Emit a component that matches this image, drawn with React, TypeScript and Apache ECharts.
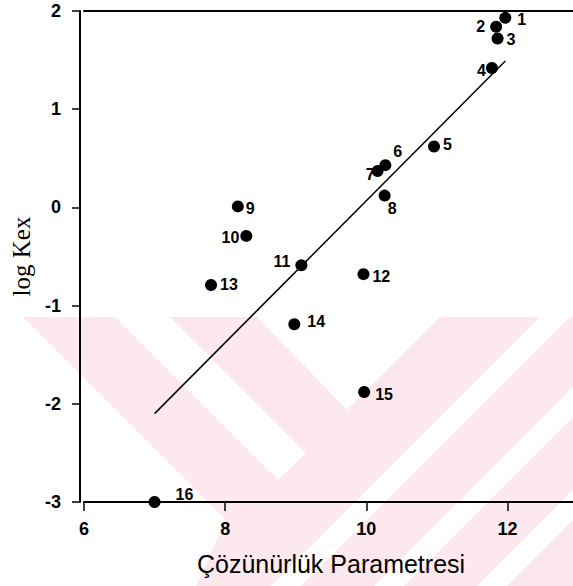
import React, { useEffect, useRef } from "react";
import * as echarts from "echarts";

// Sample numbers shown beside each point
const sampleIds = ["1", "2", "3", "4", "5", "6", "7", "8", "9", "10", "11", "12", "13", "14", "15", "16"];
// Solubility parameter (x) and log Kex (y) for each sample
const solubilityParam = [11.97, 11.84, 11.86, 11.78, 10.96, 10.27, 10.16, 10.26, 8.18, 8.3, 9.08, 9.96, 7.8, 8.98, 9.97, 7.0];
const logKex = [1.93, 1.84, 1.72, 1.42, 0.62, 0.43, 0.37, 0.12, 0.01, -0.29, -0.59, -0.68, -0.79, -1.19, -1.88, -3.0];

// Regression line end points
const fitX = [7.0, 11.97];
const fitY = [-2.1, 1.49];

// Axis ranges
const xRange = [6, 13];
const yRange = [-3, 2];
const xTickStep = 2;
const yTickStep = 1;

// Where each sample number sits next to its dot
const labelPlacement: { pos: "left" | "right"; dist: number; off: [number, number] }[] = [
  { pos: "right", dist: 6, off: [0, 2] },
  { pos: "left", dist: 5, off: [0, 0] },
  { pos: "right", dist: 3, off: [0, 1] },
  { pos: "left", dist: 0, off: [0, 3] },
  { pos: "right", dist: 3, off: [0, -2] },
  { pos: "right", dist: 2, off: [0, -14] },
  { pos: "left", dist: 0, off: [3, 3] },
  { pos: "right", dist: 0, off: [-3, 13] },
  { pos: "right", dist: 2, off: [0, 2] },
  { pos: "left", dist: 1, off: [0, 2] },
  { pos: "left", dist: 5, off: [0, -4] },
  { pos: "right", dist: 3, off: [0, 2] },
  { pos: "right", dist: 3, off: [0, 0] },
  { pos: "right", dist: 7, off: [0, -3] },
  { pos: "right", dist: 5, off: [0, 2] },
  { pos: "right", dist: 15, off: [0, -8] },
];

const SANS = "'Liberation Sans', Arial, sans-serif";
const SERIF = "'Liberation Serif', 'Times New Roman', serif";
const PINK = "#fde9ed";

// Faint background emblem: pink field with white diagonal cut-outs
const emblem = [
  { pts: [[23, 317], [580, 317], [580, 586], [196, 586], [226, 520]], fill: PINK, z: -6 },
  { pts: [[115, 317], [170, 317], [306, 453], [278, 480]], fill: "#ffffff", z: -5 },
  { pts: [[257, 317], [347, 410], [440, 317]], fill: "#ffffff", z: -5 },
  { pts: [[540, 317], [570, 317], [301, 586], [271, 586]], fill: "#ffffff", z: -5 },
  { pts: [[580, 380], [580, 410], [404, 586], [374, 586]], fill: "#ffffff", z: -5 },
  { pts: [[580, 483], [580, 513], [507, 586], [477, 586]], fill: "#ffffff", z: -5 },
];

export default function App() {
  const ref = useRef<HTMLDivElement>(null);

  useEffect(() => {
    if (!ref.current) return;
    const chart = echarts.init(ref.current, null, { renderer: "svg" });

    const points = sampleIds.map((id, i) => ({
      name: id,
      value: [solubilityParam[i], logKex[i]],
      label: {
        position: labelPlacement[i].pos,
        distance: labelPlacement[i].dist,
        offset: labelPlacement[i].off,
      },
    }));

    const axisLine = { show: true, onZero: false, lineStyle: { color: "#000", width: 2 } };
    const tickFont = { color: "#000", fontFamily: SANS, fontSize: 18, fontWeight: "bold" as const };

    chart.setOption({
      animation: false,
      backgroundColor: "#ffffff",
      grid: { left: 84, right: 2, top: 11, bottom: 84, containLabel: false },
      graphic: {
        elements: emblem.map((e) => ({
          type: "polygon",
          z: e.z,
          silent: true,
          shape: { points: e.pts },
          style: { fill: e.fill },
        })),
      },
      xAxis: [
        {
          type: "value",
          position: "bottom",
          min: xRange[0],
          max: xRange[1],
          interval: xTickStep,
          axisLine,
          axisTick: { show: true, inside: false, length: 9, lineStyle: { color: "#000", width: 1.5 } },
          axisLabel: {
            ...tickFont,
            margin: 18,
            showMaxLabel: false,
            formatter: (v: number) => ((v - xRange[0]) % xTickStep === 0 ? String(v) : ""),
          },
          splitLine: { show: false },
          name: "Çözünürlük Parametresi",
          nameLocation: "middle",
          nameGap: 49,
          nameTextStyle: { color: "#000", fontFamily: SANS, fontSize: 25 },
        },
        {
          type: "value",
          position: "top",
          min: xRange[0],
          max: xRange[1],
          interval: xTickStep,
          axisLine,
          axisTick: { show: false },
          axisLabel: { show: false },
          splitLine: { show: false },
        },
      ],
      yAxis: {
        type: "value",
        min: yRange[0],
        max: yRange[1],
        interval: yTickStep,
        offset: 4,
        axisLine,
        axisTick: { show: true, inside: false, length: 8, lineStyle: { color: "#000", width: 1.5 } },
        axisLabel: { ...tickFont, margin: 19 },
        splitLine: { show: false },
        name: "log Kex",
        nameLocation: "middle",
        nameRotate: 90,
        nameGap: 46,
        nameTextStyle: { color: "#000", fontFamily: SERIF, fontSize: 25 },
      },
      series: [
        {
          type: "line",
          data: fitX.map((x, i) => [x, fitY[i]]),
          symbol: "none",
          lineStyle: { color: "#000", width: 1.5 },
          z: 2,
        },
        {
          type: "scatter",
          data: points,
          symbol: "circle",
          symbolSize: 12,
          clip: false,
          itemStyle: { color: "#000", opacity: 1 },
          label: {
            show: true,
            formatter: "{b}",
            color: "#000",
            fontFamily: SANS,
            fontSize: 16,
            fontWeight: "bold",
          },
          z: 3,
        },
      ],
    });

    return () => chart.dispose();
  }, []);

  return (
    <div style={{ position: "absolute", left: 0, top: 0, width: 573, height: 586, overflow: "hidden", background: "#fff" }}>
      <div ref={ref} style={{ width: 580, height: 586 }} />
    </div>
  );
}
